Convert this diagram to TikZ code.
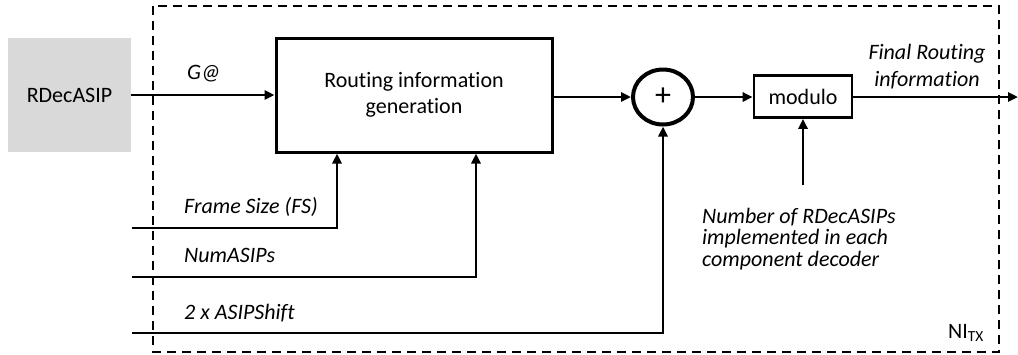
\documentclass[tikz,border=0pt]{standalone}
\usepackage{fontspec}
\setmainfont{Carlito}[Ligatures=NoCommon]
\usetikzlibrary{arrows.meta,shapes.geometric}

\begin{document}
\begin{tikzpicture}[x=1pt, y=-1pt, > = {Triangle[length=10pt,width=9pt]},
    every node/.style = {font=\fontsize{22}{26}\selectfont},
    block/.style = {draw, line width=3pt, inner sep=0pt, align=center},
    signal/.style = {line width=2.6pt, ->},
    label/.style = {font=\fontsize{22}{27}\selectfont\itshape, inner sep=0pt}]

    \useasboundingbox (0,0) rectangle (1018,354);

    % network interface frame
    \draw[dash pattern=on 9pt off 6pt, line width=2pt] (153,6) rectangle (999,352);
    \node[anchor=center, inner sep=0pt] (ni) at (966,333) {NI\textsubscript{TX}};

    % blocks
    \node[fill=black!15, minimum width=123, minimum height=114, inner sep=0pt] (rdec) at (69.5,95) {RDecASIP};
    \node[block, minimum width=276, minimum height=114] (rig) at (414,95) {Routing information\\generation};
    \node[draw, ellipse, line width=4pt, minimum width=60, minimum height=55, inner sep=0pt,
          font=\fontsize{32}{32}\selectfont] (sum) at (663,97) {+};
    \node[draw, line width=2.6pt, minimum width=98, minimum height=42, inner sep=0pt] (mod) at (803,96.5) {modulo};

    % inputs
    \coordinate (fs) at (132,228);
    \coordinate (na) at (132,277);
    \coordinate (sh) at (132,333);
    \coordinate (nb) at (803,185);
    \coordinate (out) at (1018,97);

    % connectors
    \draw[signal] (rdec.east) -- (rig.west);
    \draw[signal] (rig.east |- sum.west) -- (sum.west);
    \draw[signal] (sum.east) -- (mod.west |- sum.east);
    \draw[signal] (mod.east |- out) -- (out);
    \draw[signal] (fs) -| (rig.south -| 337,0);
    \draw[signal] (na) -| (rig.south -| 476,0);
    \draw[signal] (sh) -| (sum.south);
    \draw[signal] (nb) -- (mod.south);

    % labels
    \node[label, anchor=west] (ga) at (187,74) {G@};
    \node[label, anchor=west] (lfs) at (184,207) {Frame Size (FS)};
    \node[label, anchor=west] (lna) at (184,255) {NumASIPs};
    \node[label, anchor=west] (lsh) at (184,313) {2 x ASIPShift};
    \node[label, align=center] (lout) at (927,67) {Final Routing\\information};
    \node[label, align=left, anchor=north west, font=\fontsize{22}{21.5}\selectfont\itshape] (lnb) at (702,208)
        {Number of RDecASIPs\\implemented in each\\component decoder};
\end{tikzpicture}
\end{document}
